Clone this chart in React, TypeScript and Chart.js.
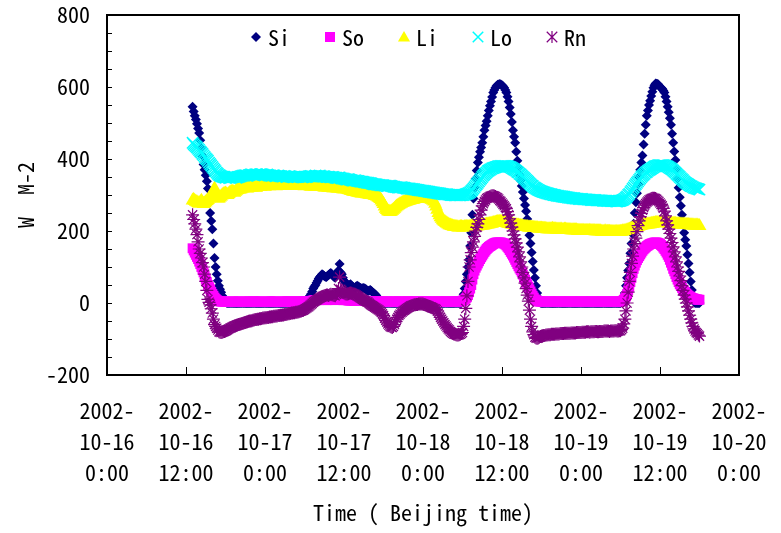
import React, { useEffect, useRef } from 'react';
import { Chart, registerables } from 'chart.js';

Chart.register(...registerables);

// ---- data (10-minute samples, hours since 2002-10-16 0:00; one row = one hour) ----
const START_HOUR = 13;
const STEP_HOURS = 1 / 6;

const SERIES_NAMES = ['Si', 'So', 'Li', 'Lo', 'Rn'];

const X_TICK_DATES = ['10-16', '10-16', '10-17', '10-17', '10-18', '10-18', '10-19', '10-19', '10-20'];
const X_TICK_TIMES = ['0:00', '12:00', '0:00', '12:00', '0:00', '12:00', '0:00', '12:00', '0:00'];
const X_TICK_YEAR = '2002-';

const SI = [
  545, 532, 520, 510, 498, 485, // 13h
  472, 452, 430, 408, 385, 370,
  355, 338, 318, 285, 250, 228,
  205, 165, 125, 100, 80, 62,
  48, 38, 30, 20, 12, 7,
  3, 1, 0, 0, 0, 0, // 18h
  0, 0, 0, 0, 0, 0,
  0, 0, 0, 0, 0, 0,
  0, 0, 0, 0, 0, 0,
  0, 0, 0, 0, 0, 0,
  0, 0, 0, 0, 0, 0,
  0, 0, 0, 0, 0, 0,
  0, 0, 0, 0, 0, 0, // 25h
  0, 0, 0, 0, 0, 0,
  0, 0, 0, 0, 0, 0,
  0, 0, 0, 0, 0, 0,
  0, 0, 0, 0, 0, 0, // 29h
  2, 5, 8, 11, 15, 20, // 30h
  25, 32, 40, 46, 50, 56,
  62, 68, 72, 76, 80, 78,
  75, 73, 72, 76, 78, 81,
  83, 80, 76, 72, 70, 78,
  85, 90, 108, 85, 80, 70, // 35h
  62, 58, 55, 50, 48, 50,
  52, 48, 45, 43, 42, 46,
  48, 46, 44, 42, 40, 41,
  42, 40, 38, 35, 33, 35,
  36, 33, 30, 28, 25, 22, // 40h
  18, 14, 10, 7, 4, 2,
  0, 0, 0, 0, 0, 0, // 42h
  0, 0, 0, 0, 0, 0,
  0, 0, 0, 0, 0, 0,
  0, 0, 0, 0, 0, 0,
  0, 0, 0, 0, 0, 0,
  0, 0, 0, 0, 0, 0,
  0, 0, 0, 0, 0, 0, // 48h
  0, 0, 0, 0, 0, 0,
  0, 0, 0, 0, 0, 0,
  0, 0, 0, 0, 0, 0,
  0, 0, 0, 0, 0, 0,
  0, 0, 0, 0, 0, 0, // 53h
  10, 24, 40, 60, 80, 100, // 54h
  120, 158, 195, 245, 290, 320,
  345, 368, 390, 405, 420, 432,
  445, 462, 480, 493, 505, 520,
  535, 548, 560, 572, 585, 592,
  598, 603, 606, 607, 608, 607, // 59h
  605, 602, 598, 592, 585, 573,
  560, 543, 525, 503, 480, 462,
  445, 420, 395, 375, 355, 340,
  325, 308, 290, 272, 255, 233,
  211, 188, 165, 140, 115, 92,
  70, 48, 28, 15, 5, 1, // 65h
  0, 0, 0, 0, 0, 0, // 66h
  0, 0, 0, 0, 0, 0,
  0, 0, 0, 0, 0, 0,
  0, 0, 0, 0, 0, 0,
  0, 0, 0, 0, 0, 0,
  0, 0, 0, 0, 0, 0,
  0, 0, 0, 0, 0, 0, // 72h
  0, 0, 0, 0, 0, 0,
  0, 0, 0, 0, 0, 0,
  0, 0, 0, 0, 0, 0,
  0, 0, 0, 0, 0, 0,
  0, 0, 0, 0, 0, 0, // 77h
  0, 4, 10, 18, 28, 48, // 78h
  70, 90, 110, 138, 165, 192,
  220, 250, 280, 305, 330, 350,
  370, 390, 410, 440, 470, 495,
  520, 535, 550, 562, 575, 587,
  598, 605, 610, 609, 608, 604, // 83h
  600, 598, 595, 590, 585, 573,
  560, 545, 530, 513, 495, 470,
  445, 421, 397, 371, 345, 320,
  294, 270, 245, 220, 195, 176,
  158, 134, 110, 85, 60, 36,
  12, 4, 0, 0, 0, 0, // 89h
  0,
];

const SO = [
  152, 146, 140, 134, 128, 122, // 13h
  115, 108, 100, 92, 85, 75,
  65, 58, 50, 44, 38, 31,
  25, 20, 15, 11, 8, 6,
  5, 5, 4, 4, 4, 4,
  4, 4, 4, 3, 3, 3, // 18h
  3, 4, 4, 4, 4, 4,
  4, 3, 3, 3, 3, 4,
  4, 4, 4, 4, 4, 3,
  3, 4, 4, 4, 4, 4,
  4, 4, 4, 3, 3, 3,
  3, 4, 4, 4, 4, 4,
  4, 4, 4, 4, 4, 3, // 25h
  3, 3, 3, 4, 4, 4,
  4, 4, 4, 4, 4, 4,
  4, 4, 3, 3, 4, 4,
  4, 4, 4, 4, 4, 4,
  4, 4, 5, 5, 5, 5, // 30h
  6, 6, 7, 8, 8, 8,
  8, 8, 9, 9, 9, 9,
  9, 9, 8, 8, 9, 9,
  9, 9, 9, 9, 8, 9,
  9, 10, 12, 10, 9, 8, // 35h
  8, 8, 8, 8, 7, 7,
  7, 7, 7, 6, 6, 7,
  7, 7, 6, 6, 6, 6,
  6, 6, 6, 5, 5, 5,
  5, 5, 5, 5, 5, 5, // 40h
  4, 4, 4, 4, 4, 4,
  4, 4, 4, 4, 3, 3,
  4, 4, 4, 4, 4, 4,
  3, 3, 4, 4, 4, 4,
  4, 4, 3, 3, 4, 4, // 45h
  4, 4, 4, 4, 4, 4,
  3, 3, 4, 4, 4, 4,
  4, 4, 4, 4, 3, 3,
  4, 4, 4, 4, 4, 4,
  3, 3, 4, 4, 4, 4, // 50h
  4, 4, 4, 4, 3, 3,
  4, 4, 4, 4, 4, 4,
  4, 4, 4, 4, 5, 5,
  6, 8, 10, 13, 16, 22, // 54h
  30, 40, 50, 65, 80, 90,
  98, 104, 110, 116, 122, 127,
  132, 137, 142, 146, 150, 153,
  156, 158, 160, 162, 164, 166,
  167, 168, 168, 168, 168, 168, // 59h
  167, 166, 165, 163, 160, 156,
  152, 147, 142, 137, 132, 126,
  120, 114, 108, 102, 96, 91,
  86, 79, 72, 65, 58, 52,
  45, 38, 32, 26, 20, 15,
  10, 8, 6, 5, 4, 4, // 65h
  4, 4, 4, 4, 4, 4,
  3, 3, 4, 4, 4, 4,
  4, 4, 4, 4, 3, 3,
  4, 4, 4, 4, 4, 4,
  4, 4, 3, 3, 4, 4, // 70h
  4, 4, 4, 4, 4, 4,
  3, 3, 4, 4, 4, 4,
  4, 4, 4, 4, 3, 3,
  4, 4, 4, 4, 4, 4,
  4, 4, 3, 3, 4, 4, // 75h
  4, 4, 4, 4, 4, 4,
  3, 3, 4, 4, 4, 4,
  4, 5, 6, 9, 12, 18, // 78h
  25, 35, 45, 58, 70, 83,
  95, 104, 112, 119, 125, 130,
  135, 140, 145, 149, 152, 155,
  158, 160, 162, 164, 165, 166,
  167, 168, 168, 168, 167, 166, // 83h
  164, 161, 158, 154, 150, 145,
  140, 134, 128, 120, 112, 104,
  95, 88, 80, 72, 65, 58,
  52, 47, 42, 37, 33, 29,
  26, 23, 20, 18, 16, 14,
  13, 12, 11, 10, 10, 9, // 89h
  9,
];

const LI = [
  285, 287, 283, 281, 280, 278, // 13h
  276, 280, 284, 279, 275, 277,
  280, 283, 286, 290, 294, 297,
  300, 310, 318, 304, 292, 290,
  290, 293, 296, 299, 302, 303,
  304, 302, 300, 303, 306, 308, // 18h
  310, 308, 306, 309, 312, 314,
  315, 315, 316, 318, 319, 320,
  320, 319, 318, 320, 322, 321,
  321, 322, 323, 321, 320, 322,
  324, 323, 322, 324, 325, 324,
  323, 325, 326, 325, 324, 325,
  325, 326, 327, 325, 324, 325, // 25h
  326, 326, 325, 327, 328, 327,
  327, 326, 325, 325, 326, 327,
  328, 327, 326, 326, 327, 326,
  325, 326, 327, 326, 326, 325,
  324, 325, 326, 325, 325, 324, // 30h
  323, 324, 325, 323, 322, 323,
  324, 323, 322, 322, 323, 322,
  321, 321, 322, 321, 320, 320,
  321, 320, 319, 319, 320, 319,
  318, 318, 319, 318, 317, 316, // 35h
  316, 316, 317, 315, 314, 313,
  312, 311, 310, 309, 308, 308,
  307, 306, 306, 305, 304, 305,
  305, 304, 303, 302, 302, 301,
  301, 300, 300, 299, 298, 297, // 40h
  296, 294, 292, 289, 285, 280,
  275, 268, 262, 258, 255, 254,
  253, 254, 256, 259, 262, 265,
  268, 270, 272, 274, 276, 278,
  279, 280, 281, 282, 283, 284, // 45h
  285, 286, 287, 287, 288, 289,
  290, 290, 291, 291, 292, 292,
  292, 292, 291, 290, 290, 290,
  289, 288, 287, 285, 282, 276,
  268, 259, 250, 244, 238, 234, // 50h
  230, 227, 225, 222, 220, 218,
  216, 215, 214, 213, 212, 212,
  211, 211, 210, 210, 211, 211,
  210, 210, 211, 211, 212, 211,
  211, 212, 212, 213, 213, 212, // 55h
  212, 213, 213, 214, 214, 215,
  215, 215, 216, 217, 218, 218,
  219, 220, 220, 221, 222, 222,
  223, 224, 225, 225, 226, 226,
  225, 225, 224, 223, 222, 221, // 60h
  220, 220, 219, 218, 218, 217,
  216, 216, 215, 215, 214, 214,
  213, 213, 212, 212, 211, 211,
  210, 210, 210, 209, 209, 209,
  208, 208, 208, 207, 207, 207, // 65h
  207, 206, 206, 206, 206, 205,
  205, 205, 205, 205, 206, 205,
  205, 205, 204, 204, 204, 204,
  204, 203, 203, 204, 204, 203,
  203, 203, 203, 202, 202, 202, // 70h
  202, 202, 202, 201, 201, 201,
  201, 201, 201, 200, 200, 200,
  200, 200, 201, 200, 200, 200,
  200, 199, 199, 199, 199, 199,
  199, 198, 198, 198, 199, 198, // 75h
  198, 198, 198, 197, 197, 197,
  197, 197, 198, 197, 197, 197,
  198, 198, 199, 199, 200, 201,
  202, 203, 204, 205, 206, 207,
  208, 209, 210, 211, 212, 213, // 80h
  214, 215, 216, 216, 217, 217,
  218, 218, 219, 219, 220, 220,
  221, 221, 222, 222, 222, 222,
  222, 222, 223, 223, 222, 222,
  222, 221, 221, 221, 221, 220, // 85h
  220, 220, 220, 219, 219, 219,
  219, 218, 218, 218, 218, 217,
  217, 217, 217, 216, 216, 216,
  216, 215, 215, 215, 215, 214, // 89h
  214,
];

const LO = [
  445, 441, 438, 435, 432, 428, // 13h
  425, 421, 418, 414, 410, 406,
  402, 399, 395, 390, 386, 382,
  378, 374, 370, 366, 362, 359,
  356, 354, 352, 351, 350, 349,
  348, 349, 350, 348, 347, 348, // 18h
  349, 350, 351, 349, 348, 349,
  350, 351, 352, 353, 354, 354,
  355, 354, 353, 355, 356, 357,
  357, 356, 355, 357, 358, 357,
  356, 357, 358, 358, 357, 356,
  355, 356, 357, 355, 354, 354,
  353, 354, 355, 353, 352, 353, // 25h
  354, 353, 352, 352, 351, 352,
  353, 351, 350, 351, 352, 351,
  351, 350, 349, 350, 351, 351,
  350, 351, 352, 350, 349, 350,
  351, 350, 350, 351, 352, 352, // 30h
  353, 352, 351, 352, 354, 353,
  352, 353, 354, 352, 351, 352,
  352, 351, 350, 350, 351, 350,
  349, 350, 350, 349, 348, 348,
  347, 348, 349, 347, 346, 346, // 35h
  345, 344, 343, 343, 344, 343,
  342, 341, 340, 340, 341, 340,
  339, 339, 338, 337, 337, 337,
  336, 335, 335, 334, 334, 333,
  333, 332, 331, 330, 330, 330, // 40h
  329, 328, 328, 327, 327, 327,
  327, 326, 326, 325, 325, 326,
  326, 325, 324, 323, 323, 322,
  322, 321, 321, 321, 322, 321,
  320, 320, 319, 318, 318, 318, // 45h
  318, 317, 317, 316, 316, 315,
  315, 314, 314, 313, 313, 312,
  312, 311, 311, 310, 310, 309,
  309, 308, 308, 307, 307, 306,
  306, 305, 305, 304, 304, 303, // 50h
  303, 302, 302, 302, 302, 301,
  301, 300, 300, 300, 300, 299,
  299, 299, 300, 299, 299, 300,
  300, 300, 301, 302, 303, 304,
  306, 308, 311, 314, 318, 322, // 55h
  326, 330, 334, 338, 342, 346,
  350, 354, 357, 360, 363, 366,
  368, 370, 372, 374, 375, 376,
  377, 378, 379, 380, 380, 381,
  381, 381, 381, 381, 380, 380, // 60h
  379, 378, 377, 375, 373, 371,
  369, 367, 364, 362, 359, 357,
  354, 351, 348, 345, 342, 339,
  336, 333, 330, 327, 325, 322,
  320, 318, 316, 314, 313, 311, // 65h
  310, 309, 308, 307, 306, 305,
  304, 303, 302, 302, 301, 300,
  300, 299, 298, 298, 297, 297,
  296, 296, 295, 295, 294, 294,
  293, 293, 292, 292, 291, 291, // 70h
  291, 290, 290, 290, 289, 289,
  289, 289, 288, 288, 288, 288,
  287, 287, 287, 286, 286, 286,
  286, 286, 285, 285, 285, 285,
  285, 285, 284, 284, 284, 284, // 75h
  283, 284, 284, 283, 283, 283,
  283, 283, 282, 282, 283, 283,
  284, 285, 286, 288, 290, 293,
  296, 300, 303, 308, 312, 317,
  321, 326, 330, 334, 338, 342, // 80h
  346, 350, 353, 356, 359, 362,
  364, 367, 369, 371, 373, 375,
  377, 379, 380, 381, 382, 383,
  383, 383, 383, 383, 382, 381,
  380, 379, 377, 375, 373, 371, // 85h
  368, 365, 362, 359, 356, 353,
  350, 347, 344, 341, 338, 335,
  333, 331, 329, 327, 325, 324,
  322, 320, 319, 318, 317, 316, // 89h
  315,
];

const RN = [
  245, 232, 220, 205, 190, 170, // 13h
  150, 138, 125, 112, 100, 80,
  60, 35, 10, 2, -5, -16,
  -28, -45, -60, -65, -70, -75,
  -80, -81, -82, -81, -80, -79,
  -78, -76, -74, -72, -70, -69, // 18h
  -67, -65, -64, -63, -62, -61,
  -60, -59, -58, -57, -56, -55,
  -54, -53, -52, -51, -50, -50,
  -49, -48, -47, -46, -46, -45,
  -45, -44, -44, -43, -42, -42,
  -41, -41, -40, -40, -39, -39,
  -38, -38, -37, -37, -36, -36, // 25h
  -35, -35, -34, -34, -33, -33,
  -32, -32, -31, -30, -30, -29,
  -28, -28, -27, -27, -26, -26,
  -25, -24, -23, -22, -21, -20,
  -18, -16, -14, -12, -10, -7, // 30h
  -4, -1, 2, 4, 6, 8,
  10, 12, 14, 16, 18, 19,
  20, 21, 22, 22, 21, 23,
  24, 23, 22, 21, 20, 24,
  28, 40, 72, 38, 35, 30, // 35h
  28, 26, 25, 25, 26, 27,
  28, 27, 26, 25, 24, 22,
  20, 18, 16, 14, 12, 10,
  8, 6, 5, 3, 2, -1,
  -4, -6, -8, -10, -12, -14, // 40h
  -16, -18, -20, -23, -26, -30,
  -35, -42, -48, -53, -58, -62,
  -65, -67, -68, -65, -60, -52,
  -45, -40, -35, -31, -27, -25,
  -22, -20, -18, -16, -14, -12, // 45h
  -10, -8, -7, -6, -5, -5,
  -4, -4, -3, -3, -3, -3,
  -3, -4, -5, -6, -8, -9,
  -10, -11, -12, -13, -15, -16,
  -18, -22, -28, -34, -40, -45, // 50h
  -50, -55, -60, -64, -68, -72,
  -75, -79, -82, -84, -86, -87,
  -88, -89, -89, -88, -87, -85,
  -82, -65, -45, -15, 20, 60,
  100, 120, 140, 155, 170, 185, // 55h
  200, 210, 220, 232, 245, 258,
  270, 276, 282, 286, 290, 292,
  294, 296, 297, 298, 298, 297,
  296, 294, 292, 289, 285, 282,
  278, 274, 270, 266, 262, 254, // 60h
  245, 234, 222, 211, 200, 189,
  178, 167, 155, 142, 128, 114,
  100, 85, 70, 55, 40, 22,
  5, -20, -45, -65, -80, -88,
  -95, -97, -98, -97, -95, -93, // 65h
  -92, -91, -90, -90, -89, -89,
  -88, -88, -88, -87, -87, -87,
  -87, -86, -86, -86, -86, -85,
  -85, -85, -85, -84, -84, -84,
  -84, -84, -84, -83, -83, -83, // 70h
  -83, -83, -82, -82, -82, -82,
  -82, -81, -81, -81, -81, -80,
  -80, -80, -81, -80, -80, -80,
  -80, -79, -79, -80, -80, -79,
  -79, -79, -79, -78, -78, -78, // 75h
  -78, -78, -79, -78, -78, -78,
  -78, -77, -77, -78, -78, -77,
  -77, -74, -70, -58, -45, -22,
  0, 30, 60, 85, 110, 130,
  150, 165, 180, 198, 215, 228, // 80h
  240, 249, 258, 265, 272, 276,
  280, 283, 286, 288, 290, 291,
  291, 291, 290, 288, 285, 282,
  278, 274, 270, 263, 255, 242,
  228, 217, 205, 193, 180, 168, // 85h
  156, 142, 128, 114, 100, 88,
  75, 62, 48, 35, 22, 11,
  0, -11, -22, -34, -45, -55,
  -65, -72, -78, -82, -85, -89, // 89h
  -92,
];

// ---- styles ----
const FONT = "'Noto Sans Mono CJK JP', 'Noto Sans CJK JP', 'Liberation Mono', monospace";
const TEXT_COLOR = '#000000';

type Style = { pointStyle: string; radius: number; fill: string; stroke: string; width: number };
const STYLES: Style[] = [
  { pointStyle: 'rectRot', radius: 5, fill: '#000080', stroke: '#000080', width: 0 },
  { pointStyle: 'rect', radius: 7, fill: '#FF00FF', stroke: '#FF00FF', width: 0 },
  { pointStyle: 'triangle', radius: 8, fill: '#FFFF00', stroke: '#FFFF00', width: 0 },
  { pointStyle: 'crossRot', radius: 8, fill: '#00FFFF', stroke: '#00FFFF', width: 1.5 },
  { pointStyle: 'star', radius: 6.5, fill: '#800080', stroke: '#800080', width: 1.2 },
];

const VALUES = [SI, SO, LI, LO, RN];

function drawMarker(ctx: CanvasRenderingContext2D, s: Style, x: number, y: number) {
  const r = Math.min(s.radius, 6);
  ctx.save();
  ctx.fillStyle = s.fill;
  ctx.strokeStyle = s.stroke;
  ctx.lineWidth = s.width || 1;
  ctx.beginPath();
  if (s.pointStyle === 'rectRot') {
    ctx.moveTo(x, y - r); ctx.lineTo(x + r, y); ctx.lineTo(x, y + r); ctx.lineTo(x - r, y); ctx.closePath(); ctx.fill();
  } else if (s.pointStyle === 'rect') {
    const h = 5;
    ctx.rect(x - h, y - h, 2 * h, 2 * h); ctx.fill();
  } else if (s.pointStyle === 'triangle') {
    for (let k = 0; k < 3; k++) {
      const a = (k * 2 * Math.PI) / 3;
      const px = x + Math.sin(a) * 7, py = y + 1 - Math.cos(a) * 7;
      if (k === 0) ctx.moveTo(px, py); else ctx.lineTo(px, py);
    }
    ctx.closePath(); ctx.fill();
  } else {
    const d = r * Math.SQRT1_2 + 1;
    ctx.moveTo(x - d, y - d); ctx.lineTo(x + d, y + d);
    ctx.moveTo(x + d, y - d); ctx.lineTo(x - d, y + d);
    if (s.pointStyle === 'star') {
      ctx.moveTo(x, y - r); ctx.lineTo(x, y + r);
    }
    ctx.stroke();
  }
  ctx.restore();
}

const decorPlugin = {
  id: 'decor',
  afterDraw(chart: any) {
    const { ctx, chartArea: a, scales } = chart;
    ctx.save();
    ctx.strokeStyle = '#000';
    ctx.lineWidth = 1;
    for (let v = -200; v <= 800; v += 50) {
      const y = Math.round(scales.y.getPixelForValue(v)) + 0.5;
      ctx.beginPath(); ctx.moveTo(a.left, y); ctx.lineTo(a.left + 5, y); ctx.stroke();
    }
    for (let h = 0; h <= 96; h += 12) {
      const x = Math.round(scales.x.getPixelForValue(h)) + 0.5;
      ctx.beginPath(); ctx.moveTo(x, a.bottom); ctx.lineTo(x, a.bottom - 8); ctx.stroke();
    }
    ctx.lineWidth = 2;
    ctx.strokeRect(a.left, a.top, a.right - a.left, a.bottom - a.top);

    // legend inside plot area
    const lx0 = a.left + 149;
    const ly = a.top + 22;
    ctx.font = `22px ${FONT}`;
    ctx.textBaseline = 'middle';
    ctx.textAlign = 'left';
    SERIES_NAMES.forEach((name, i) => {
      const cx = lx0 + i * 74;
      drawMarker(ctx, STYLES[i], cx, ly);
      ctx.fillStyle = TEXT_COLOR;
      ctx.fillText(name, cx + 12, ly + 1);
    });
    ctx.restore();
  },
};

export default function App() {
  const ref = useRef<HTMLCanvasElement | null>(null);

  useEffect(() => {
    if (!ref.current) return;
    const datasets = SERIES_NAMES.map((name, i) => {
      const s = STYLES[i];
      return {
        label: name,
        data: VALUES[i].map((v, k) => ({ x: START_HOUR + k * STEP_HOURS, y: v })),
        showLine: false,
        pointStyle: s.pointStyle,
        pointRadius: s.radius,
        pointBackgroundColor: s.fill,
        pointBorderColor: s.stroke,
        pointBorderWidth: s.width,
        backgroundColor: s.fill,
        borderColor: s.stroke,
        order: SERIES_NAMES.length - i,
      };
    });

    const chart = new Chart(ref.current, {
      type: 'scatter',
      data: { datasets: datasets as any },
      options: {
        animation: false,
        responsive: false,
        devicePixelRatio: 1,
        events: [],
        layout: { padding: { top: 15, right: 42, bottom: 0, left: 0 } },
        plugins: { legend: { display: false }, tooltip: { enabled: false } },
        scales: {
          x: {
            type: 'linear',
            min: 0,
            max: 96,
            grid: { display: false, drawTicks: false },
            border: { display: false },
            ticks: {
              stepSize: 12,
              autoSkip: false,
              maxRotation: 0,
              padding: 20,
              color: TEXT_COLOR,
              font: { family: FONT, size: 22, lineHeight: 31 / 22 },
              callback: (value: any) => {
                const i = Math.round(Number(value) / 12);
                return [X_TICK_YEAR, X_TICK_DATES[i], X_TICK_TIMES[i]];
              },
            },
            title: {
              display: true,
              text: 'Time ( Beijing time)',
              color: TEXT_COLOR,
              font: { family: FONT, size: 22 },
              padding: { top: 0, bottom: 7 },
            },
            afterFit: (s: any) => {
              s.height = 158;
              s.paddingLeft = 0;
              s.paddingRight = 0;
            },
          },
          y: {
            min: -200,
            max: 800,
            grid: { display: false, drawTicks: false },
            border: { display: false },
            ticks: {
              stepSize: 200,
              padding: 17,
              color: TEXT_COLOR,
              font: { family: FONT, size: 22 },
            },
            title: {
              display: true,
              text: 'W  M-2',
              color: TEXT_COLOR,
              font: { family: FONT, size: 22 },
              padding: { top: 12, bottom: 0 },
            },
            afterFit: (s: any) => {
              s.width = 107;
              s.paddingTop = 0;
              s.paddingBottom = 0;
            },
          },
        },
      },
      plugins: [decorPlugin],
    } as any);
    return () => chart.destroy();
  }, []);

  return (
    <div style={{ position: 'absolute', left: 0, top: 0, width: 781, height: 533, background: '#fff' }}>
      <canvas ref={ref} width={781} height={533} />
    </div>
  );
}
